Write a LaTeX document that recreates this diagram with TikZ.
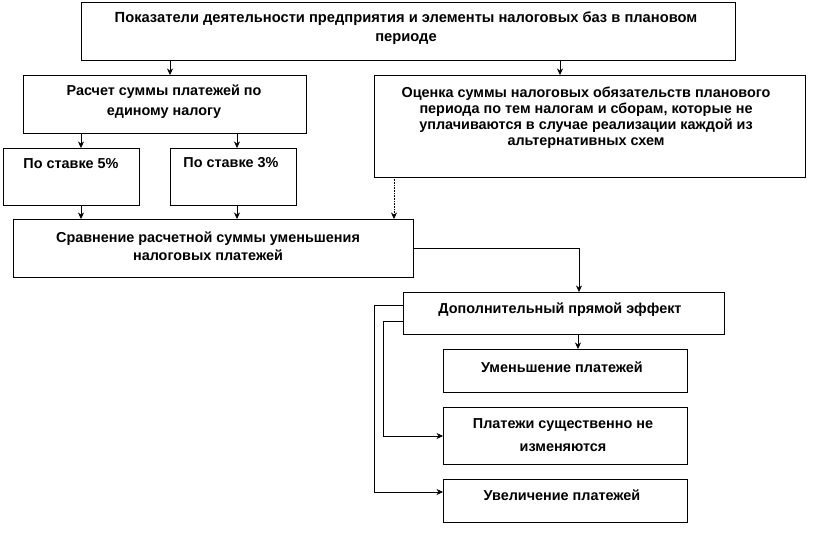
\documentclass[tikz,border=0pt]{standalone}
\usepackage{fontspec}
\setmainfont{Liberation Sans}
\usetikzlibrary{arrows.meta}
\tikzset{
  box/.style={draw, line width=0.8pt, inner sep=0pt, outer sep=0pt, anchor=north west},
  lbl/.style={font=\bfseries\fontsize{14.4}{17}\selectfont, align=center, anchor=base, inner sep=0pt},
  arr/.style={-{Stealth[length=6.5pt,width=6pt]}, line width=0.6pt},
  dotarr/.style={arr, densely dotted}
}
\begin{document}
\begin{tikzpicture}[x=1pt,y=-1pt]
\useasboundingbox (0,0) rectangle (833,535);
% boxes
\node[box, minimum width=654pt, minimum height=58pt] (top) at (81,2) {};
\node[box, minimum width=283pt, minimum height=58pt] (rasch) at (23,75) {};
\node[box, minimum width=431pt, minimum height=102pt] (ocen) at (374,75) {};
\node[box, minimum width=136pt, minimum height=57pt] (s5) at (3,148) {};
\node[box, minimum width=126pt, minimum height=57pt] (s3) at (170,148) {};
\node[box, minimum width=400pt, minimum height=58pt] (srav) at (13,219) {};
\node[box, minimum width=321pt, minimum height=42pt] (dop) at (403,292) {};
\node[box, minimum width=244pt, minimum height=43pt] (umen) at (443,349) {};
\node[box, minimum width=244pt, minimum height=57pt] (plat) at (443,407) {};
\node[box, minimum width=244pt, minimum height=43pt] (uvel) at (443,479) {};
% labels (multi-line: base = last line)
\node[lbl, font=\bfseries\fontsize{14.7}{19}\selectfont] (ttop) at (406,42) {Показатели деятельности предприятия и элементы налоговых баз в плановом\\периоде};
\node[lbl, font=\bfseries\fontsize{14.4}{20}\selectfont] (trasch) at (164,115) {Расчет суммы платежей по\\единому налогу};
\node[lbl, font=\bfseries\fontsize{14.4}{16}\selectfont] (tocen) at (586,145) {Оценка суммы налоговых обязательств планового\\периода по тем налогам и сборам, которые не\\уплачиваются в случае реализации каждой из\\альтернативных схем};
\node[lbl] (ts5) at (71,168) {По ставке 5\%};
\node[lbl] (ts3) at (231,167) {По ставке 3\%};
\node[lbl, font=\bfseries\fontsize{14.4}{18}\selectfont] (tsrav) at (208,260) {Сравнение расчетной суммы уменьшения\\налоговых платежей};
\node[lbl] (tdop) at (560,313) {Дополнительный прямой эффект};
\node[lbl] (tumen) at (562,372) {Уменьшение платежей};
\node[lbl, font=\bfseries\fontsize{14.4}{23}\selectfont] (tplat) at (563,451) {Платежи существенно не\\изменяются};
\node[lbl] (tuvel) at (562,500) {Увеличение платежей};
% helper coordinates
\coordinate (x81) at (81,0);
\coordinate (x170) at (170,0);
\coordinate (x237) at (237,0);
\coordinate (x394) at (394,0);
\coordinate (x560) at (560,0);
\coordinate (x578) at (578,0);
\coordinate (x579) at (579,0);
\coordinate (x374) at (374,0);
\coordinate (x383) at (383,0);
\coordinate (y305) at (0,305);
\coordinate (y321) at (0,321);
\coordinate (y436) at (0,436);
\coordinate (y492) at (0,492);
% connectors
\draw[arr] (x170 |- top.south) -- (x170 |- rasch.north);
\draw[arr] (x560 |- top.south) -- (x560 |- ocen.north);
\draw[arr] (x81 |- rasch.south) -- (x81 |- s5.north);
\draw[arr] (x237 |- rasch.south) -- (x237 |- s3.north);
\draw[arr] (x81 |- s5.south) -- (x81 |- srav.north);
\draw[arr] (x237 |- s3.south) -- (x237 |- srav.north);
\draw[dotarr] (x394 |- ocen.south) -- (x394 |- srav.north);
\draw[arr] (srav.east) -| (x579 |- dop.north);
\draw[arr] (x578 |- dop.south) -- (x578 |- umen.north);
\draw[arr] (y305 -| dop.west) -- (x374 |- y305) -- (x374 |- y492) -- (y492 -| uvel.west);
\draw[arr] (y321 -| dop.west) -- (x383 |- y321) -- (x383 |- y436) -- (y436 -| plat.west);
\end{tikzpicture}
\end{document}
